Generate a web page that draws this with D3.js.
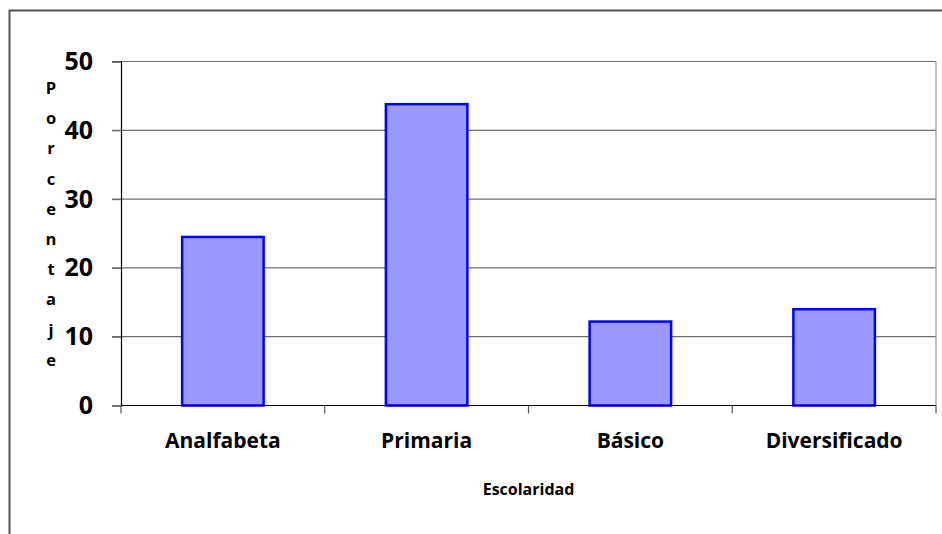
<!DOCTYPE html>
<html>
<head>
<meta charset="utf-8">
<script src="https://cdn.jsdelivr.net/npm/d3@7"></script>
<style>
  body { margin: 0; background: #fff; }
  svg { display: block; font-family: "Open Sans", "Noto Sans", sans-serif; }
</style>
</head>
<body>
<svg id="canvas" width="942" height="534"></svg>
<script>
// data
let categories = ['Analfabeta', 'Primaria', 'Básico', 'Diversificado']
let porcentajes = [24.5, 43.8, 12.2, 14.0]
let yTicks = [0, 10, 20, 30, 40, 50]
let yTitle = 'Porcentaje'
let xTitle = 'Escolaridad'

let canvas = d3.select('#canvas')

// outer frame (right and bottom run off the picture)
canvas.append('path')
  .attr('d', 'M9.5,540 V10.5 H950')
  .attr('fill', 'none')
  .attr('stroke', '#555')
  .attr('stroke-width', 2)

let plotLeft = 121, plotRight = 936, plotTop = 61.5, plotBottom = 405.5

let x = d3.scaleBand().domain(categories).range([plotLeft, plotRight]).paddingInner(0.6).paddingOuter(0.3)
let xEdge = d3.scaleBand().domain(categories).range([plotLeft, plotRight])
let y = d3.scaleLinear().domain([0, 50]).range([plotBottom, plotTop])

// gridlines
canvas.append('g')
  .selectAll('line')
  .data(yTicks.filter(d => d > 0))
  .enter()
  .append('line')
  .attr('x1', plotLeft - 9)
  .attr('x2', plotRight)
  .attr('y1', d => y(d))
  .attr('y2', d => y(d))
  .attr('stroke', '#6e6e6e')
  .attr('stroke-width', 1.2)

// right edge of plot area
canvas.append('line')
  .attr('x1', plotRight).attr('x2', plotRight)
  .attr('y1', plotTop).attr('y2', plotBottom)
  .attr('stroke', '#999')
  .attr('stroke-width', 1.2)

// bars
canvas.append('g')
  .selectAll('rect')
  .data(porcentajes)
  .enter()
  .append('rect')
  .attr('x', (d, i) => x(categories[i]))
  .attr('width', x.bandwidth())
  .attr('y', d => y(d))
  .attr('height', d => y(0) - y(d))
  .attr('fill', '#9999ff')
  .attr('stroke', '#0000ff')
  .attr('stroke-width', 2.5)

// y axis
let yAxis = canvas.append('g')
  .attr('transform', 'translate(' + plotLeft + ',0)')
  .call(d3.axisLeft(y).tickValues(yTicks).tickSize(9).tickPadding(19))
yAxis.select('.domain').attr('stroke', '#000').attr('stroke-width', 1.2)
yAxis.selectAll('.tick line').attr('stroke', '#6e6e6e').attr('stroke-width', 1.2)
yAxis.selectAll('.tick text')
  .attr('font-size', 25)
  .attr('font-weight', 'bold')
  .attr('fill', '#000')
  .attr('font-family', '"Open Sans", sans-serif')

// x axis
let xAxis = canvas.append('g')
  .attr('transform', 'translate(0,' + plotBottom + ')')
xAxis.append('line')
  .attr('x1', plotLeft).attr('x2', plotRight)
  .attr('stroke', '#000').attr('stroke-width', 1.2)
xAxis.selectAll('.sep')
  .data(categories.concat(['end']))
  .enter()
  .append('line')
  .attr('class', 'sep')
  .attr('x1', (d, i) => i < categories.length ? xEdge(d) : plotRight)
  .attr('x2', (d, i) => i < categories.length ? xEdge(d) : plotRight)
  .attr('y1', 0).attr('y2', 8)
  .attr('stroke', '#555').attr('stroke-width', 1.2)
xAxis.selectAll('text')
  .data(categories)
  .enter()
  .append('text')
  .attr('x', d => x(d) + x.bandwidth() / 2)
  .attr('y', 42)
  .attr('text-anchor', 'middle')
  .attr('font-size', 21)
  .attr('font-weight', 'bold')
  .attr('fill', '#000')
  .text(d => d)

// y title, one letter per line
canvas.append('g')
  .selectAll('text')
  .data(yTitle.split(''))
  .enter()
  .append('text')
  .attr('x', 51)
  .attr('y', (d, i) => 94 + i * 30.2)
  .attr('text-anchor', 'middle')
  .attr('font-size', 16.5)
  .attr('font-weight', 'bold')
  .attr('fill', '#000')
  .text(d => d)

// x title
canvas.append('text')
  .attr('x', (plotLeft + plotRight) / 2)
  .attr('y', 495)
  .attr('text-anchor', 'middle')
  .attr('font-size', 16)
  .attr('font-weight', 'bold')
  .attr('fill', '#000')
  .text(xTitle)
</script>
</body>
</html>
